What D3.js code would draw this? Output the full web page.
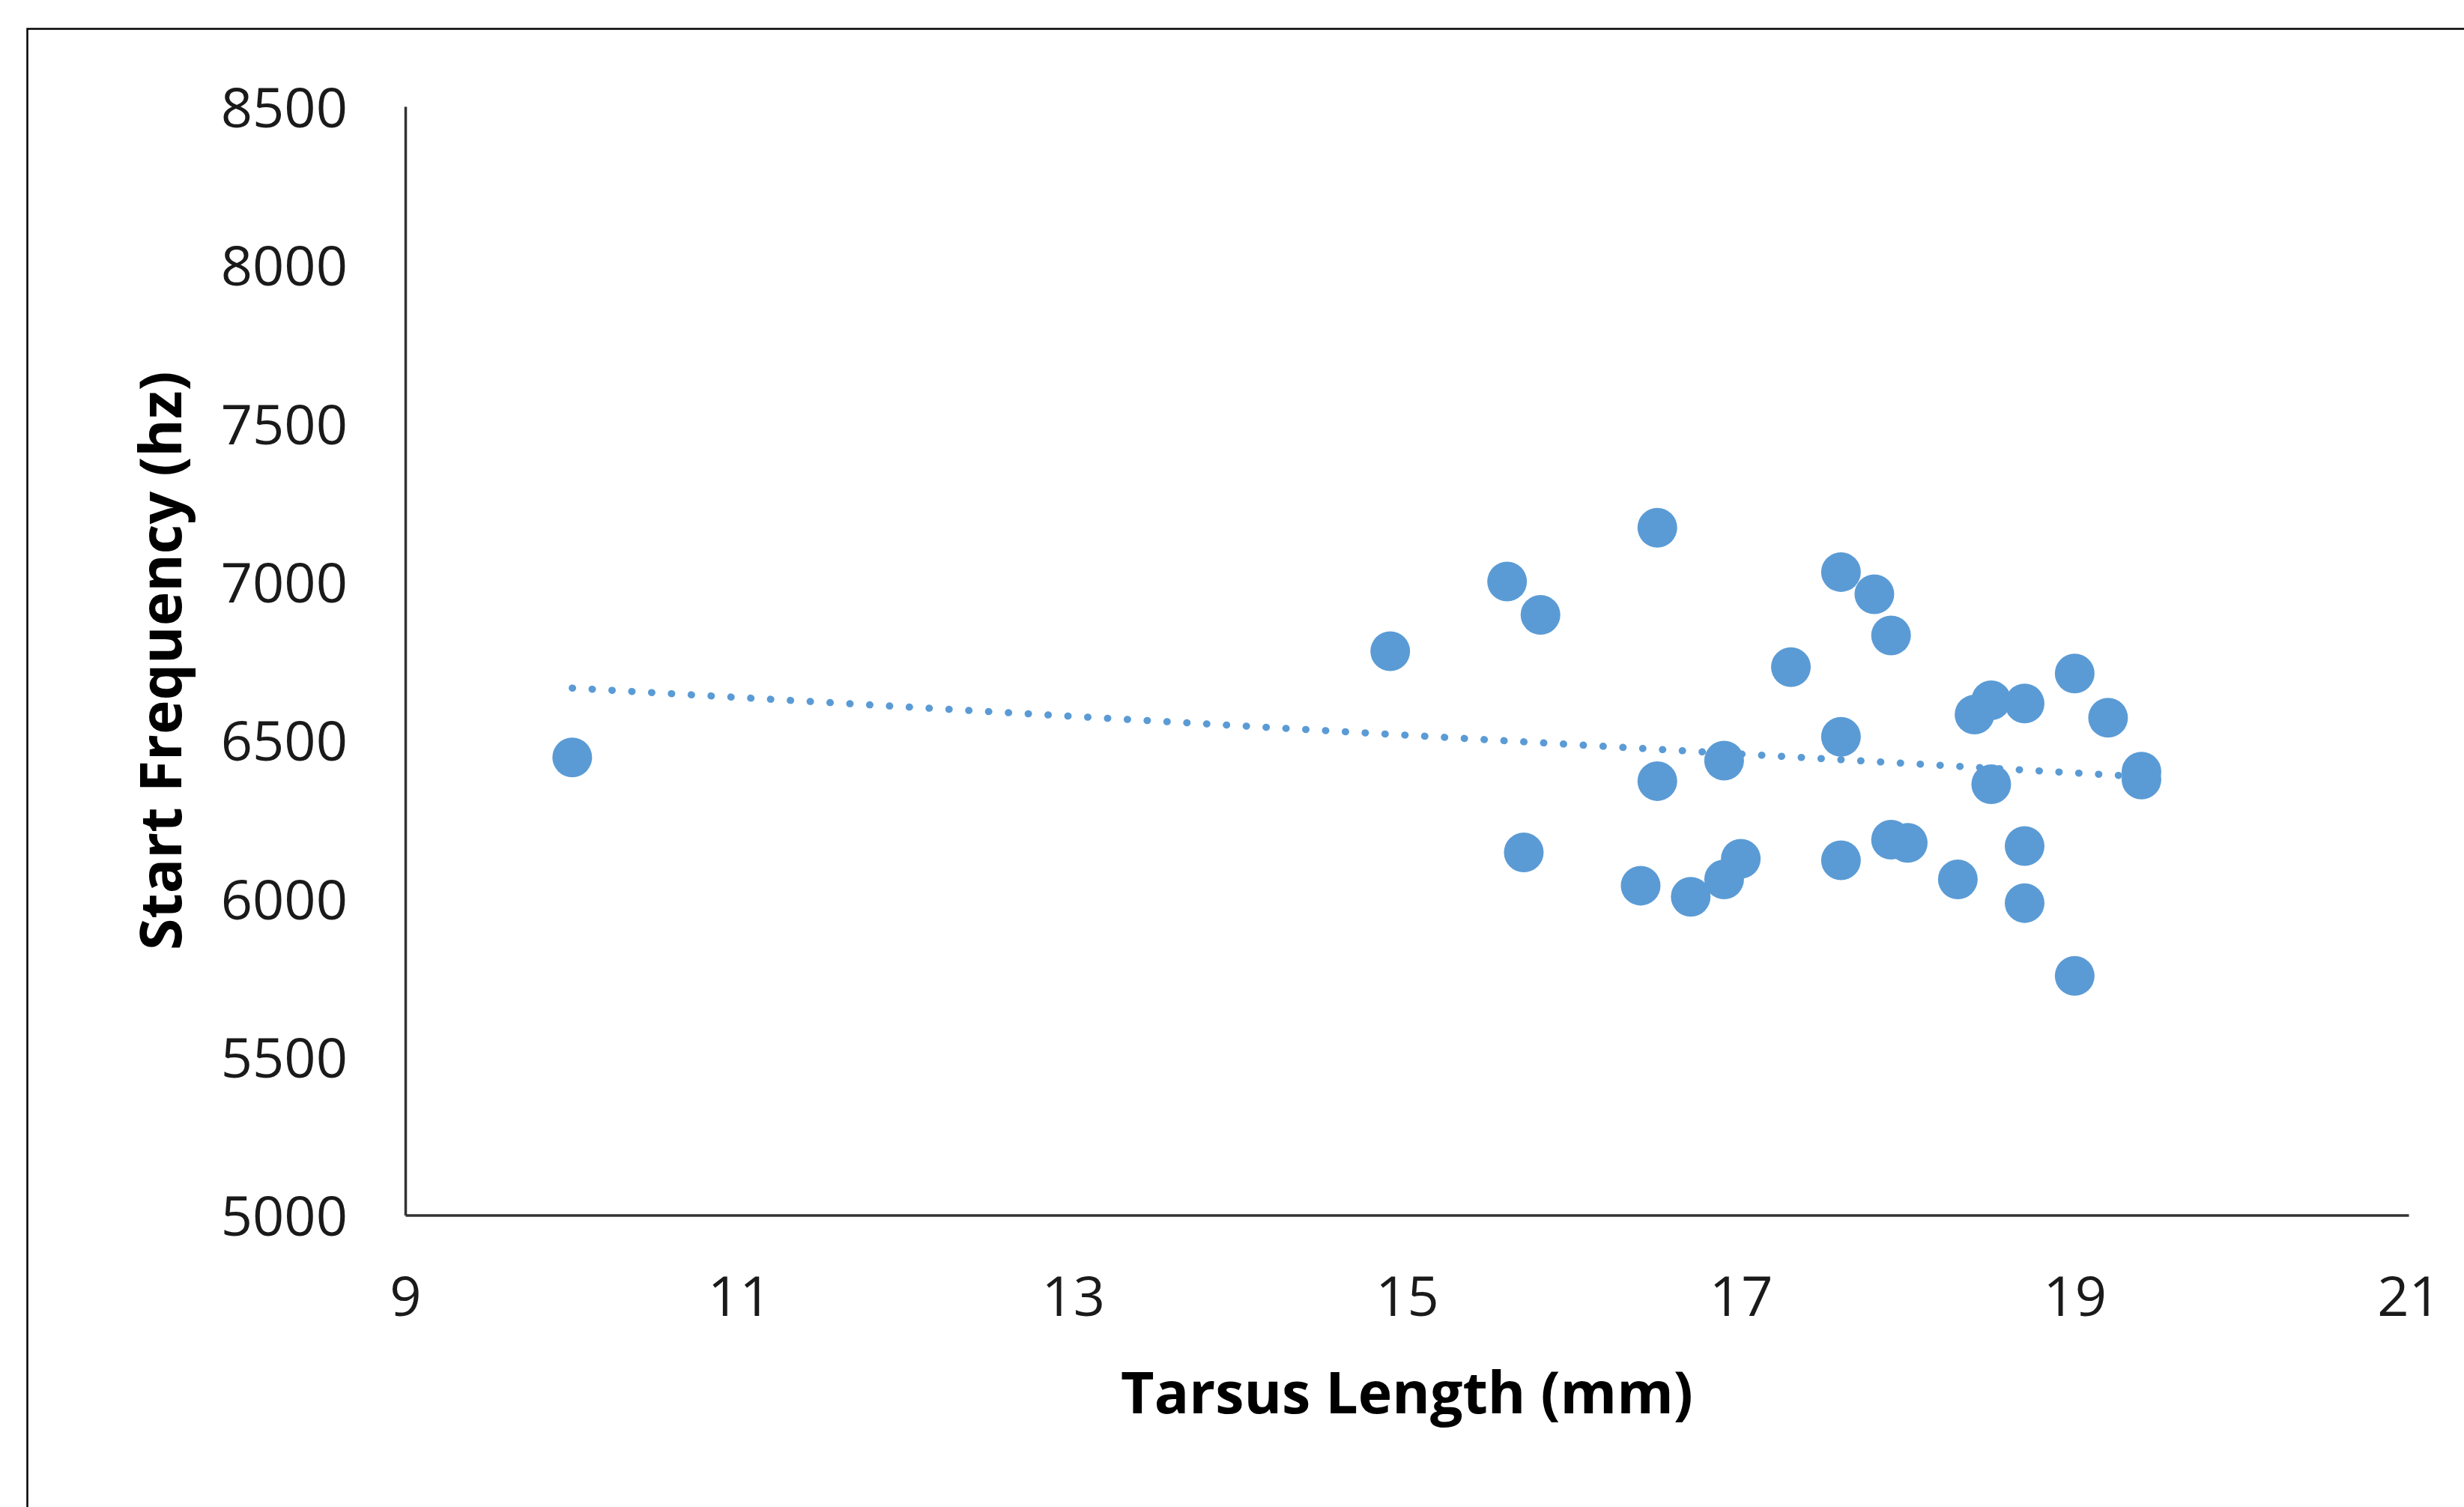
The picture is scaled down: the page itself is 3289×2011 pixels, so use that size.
<!DOCTYPE html>
<html>
<head>
<meta charset="utf-8">
<script src="https://cdn.jsdelivr.net/npm/d3@7"></script>
<style>
  html, body { margin: 0; padding: 0; background: #ffffff; }
  svg { display: block; }
</style>
</head>
<body>
<script>
// ---- Data ----
const tarsusLength = [10, 14.9, 15.6, 15.8, 16.5, 17.6, 17.8, 17.9, 17.3, 19.0, 19.2, 18.5, 18.4, 18.7, 17.6, 16.9,
                      16.5, 18.5, 19.4, 19.4, 15.7, 16.4, 16.7, 16.9, 17.0, 17.6, 17.9, 18.0, 18.3, 18.7, 18.7, 19.0];
const startFrequency = [6445, 6780, 7000, 6895, 7170, 7030, 6960, 6830, 6730, 6710, 6570, 6625, 6580, 6615, 6510, 6435,
                        6370, 6360, 6400, 6375, 6145, 6040, 6005, 6060, 6125, 6120, 6185, 6175, 6060, 6165, 5985, 5755];
const xTicks = [9, 11, 13, 15, 17, 19, 21];
const yTicks = [5000, 5500, 6000, 6500, 7000, 7500, 8000, 8500];
const xTitle = "Tarsus Length (mm)";
const yTitle = "Start Frequency (hz)";

// ---- Layout ----
const W = 3289, H = 2011;
const plot = { left: 541, right: 3215, top: 142, bottom: 1621.5 };
const color = "#5B9BD5";
const font = "'Open Sans', 'Noto Sans', sans-serif";

const svg = d3.select("body").append("svg").attr("width", W).attr("height", H);

// outer border (extends beyond page on right/bottom as in reference)
svg.append("rect")
  .attr("x", 36.5).attr("y", 38.5)
  .attr("width", W + 100).attr("height", H + 100)
  .attr("fill", "none").attr("stroke", "#000").attr("stroke-width", 2.5);

const x = d3.scaleLinear().domain([9, 21]).range([plot.left, plot.right]);
const y = d3.scaleLinear().domain([5000, 8500]).range([plot.bottom, plot.top]);

// Y axis
const yAxis = svg.append("g")
  .attr("transform", `translate(${plot.left},0)`)
  .call(d3.axisLeft(y).tickValues(yTicks).tickSize(0).tickSizeOuter(0).tickPadding(77).tickFormat(d3.format("d")));
yAxis.select(".domain").attr("stroke", "#333").attr("stroke-width", 3.5);
yAxis.selectAll("text")
  .attr("font-family", font).attr("font-size", 74).attr("fill", "#1a1a1a")
  .attr("dy", "0.37em");

// X axis
const xAxis = svg.append("g")
  .attr("transform", `translate(0,${plot.bottom})`)
  .call(d3.axisBottom(x).tickValues(xTicks).tickSize(0).tickSizeOuter(0).tickPadding(82).tickFormat(d3.format("d")));
xAxis.select(".domain").attr("stroke", "#333").attr("stroke-width", 3.5);
xAxis.selectAll("text")
  .attr("font-family", font).attr("font-size", 74).attr("fill", "#1a1a1a");

// Axis titles
svg.append("text")
  .attr("x", (plot.left + plot.right) / 2).attr("y", 1886)
  .attr("text-anchor", "middle")
  .attr("font-family", font).attr("font-weight", "bold").attr("font-size", 77).attr("fill", "#000")
  .text(xTitle);

svg.append("text")
  .attr("transform", `translate(242,${(plot.top + plot.bottom) / 2}) rotate(-90)`)
  .attr("text-anchor", "middle")
  .attr("font-family", font).attr("font-weight", "bold").attr("font-size", 77).attr("fill", "#000")
  .text(yTitle);

// Points
const pts = tarsusLength.map((v, i) => ({ x: v, y: startFrequency[i] }));
svg.append("g").selectAll("circle").data(pts).join("circle")
  .attr("cx", d => x(d.x)).attr("cy", d => y(d.y)).attr("r", 26.5)
  .attr("fill", color);

// Linear trendline (least squares)
const mx = d3.mean(tarsusLength), my = d3.mean(startFrequency);
const sxy = d3.sum(pts, d => (d.x - mx) * (d.y - my));
const sxx = d3.sum(pts, d => (d.x - mx) ** 2);
const slope = sxy / sxx, intercept = my - slope * mx;
const [x0, x1] = d3.extent(tarsusLength);
const trend = [x0, x1].map(v => ({ x: v, y: intercept + slope * v }));
svg.append("path")
  .datum(trend)
  .attr("d", d3.line().x(d => x(d.x)).y(d => y(d.y)))
  .attr("fill", "none").attr("stroke", color).attr("stroke-width", 9.5)
  .attr("stroke-linecap", "round").attr("stroke-dasharray", "0.5 26");
</script>
</body>
</html>
